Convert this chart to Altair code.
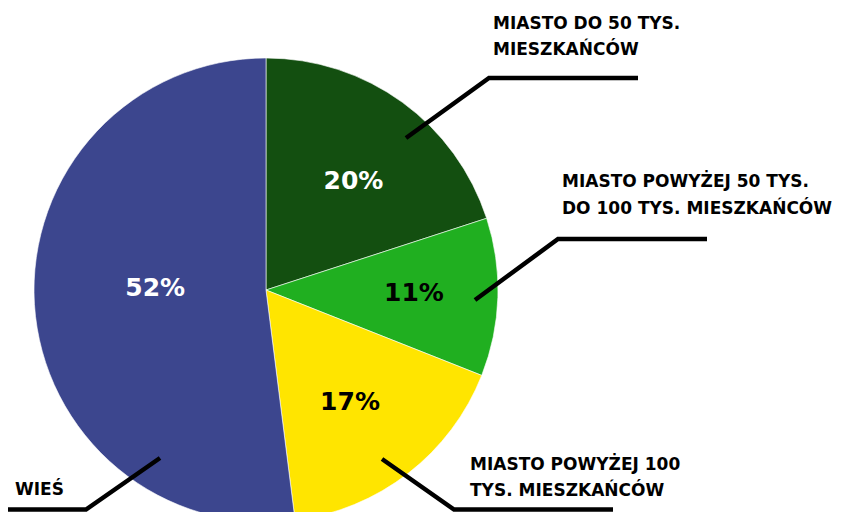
import altair as alt
import pandas as pd

# ---- data ----
categories = [
    "MIASTO DO 50 TYS. MIESZKAŃCÓW",
    "MIASTO POWYŻEJ 50 TYS. DO 100 TYS. MIESZKAŃCÓW",
    "MIASTO POWYŻEJ 100 TYS. MIESZKAŃCÓW",
    "WIEŚ",
]
values = [20, 11, 17, 52]
label_lines = [
    "MIASTO DO 50 TYS.\nMIESZKAŃCÓW",
    "MIASTO POWYŻEJ 50 TYS.\nDO 100 TYS. MIESZKAŃCÓW",
    "MIASTO POWYŻEJ 100\nTYS. MIESZKAŃCÓW",
    "WIEŚ",
]
colors = ["#134f10", "#20af20", "#ffe500", "#3c468e"]
pct_colors = ["#ffffff", "#000000", "#000000", "#ffffff"]

df = pd.DataFrame({
    "cat": categories,
    "value": values,
    "order": list(range(len(values))),
    "pct": [f"{v}%" for v in values],
    "pct_color": pct_colors,
})

# annotation layout (page pixel coordinates)
leader_x = [[406, 489, 638], [475, 558, 707], [382, 454, 613], [160, 86, 0]]
leader_y = [[138, 78, 78], [300, 239, 239], [459, 509.5, 509.5], [458, 509.5, 509.5]]
label_x = [493, 562, 470, 15]
label_y = [28.5, 187, 469.5, 495]

lines_df = pd.DataFrame([
    {"g": i, "k": k, "x": leader_x[i][k], "y": leader_y[i][k]}
    for i in range(4) for k in range(3)
])
labels_df = pd.DataFrame({"x": label_x, "y": label_y, "text": label_lines})

W, H = 827, 504
CX, CY, R = 258, 282, 232
FONT = "DejaVu Sans"

xs = alt.Scale(domain=[8, 8 + W], range=[0, W])
ys = alt.Scale(domain=[8 + H, 8], range=[H, 0])

pie = alt.Chart(df).mark_arc(radius=R, stroke="white", strokeWidth=0.6).encode(
    theta=alt.Theta("value:Q", stack=True),
    color=alt.Color("cat:N", scale=alt.Scale(domain=categories, range=colors), legend=None),
    order=alt.Order("order:Q"),
    x=alt.value(CX),
    y=alt.value(CY),
)

pct_base = alt.Chart(df).transform_window(
    cum="sum(value)", sort=[alt.SortField("order", order="ascending")],
    frame=[None, 0],
).transform_calculate(mid="datum.cum - datum.value / 2")

pct_enc = dict(
    theta=alt.Theta("mid:Q", scale=alt.Scale(domain=[0, 100], range=[0, 6.283185307])),
    text="pct:N",
    color=alt.Color("pct_color:N", scale=None),
    x=alt.value(CX),
    y=alt.value(CY),
)

# per-slice label placement: (radius, dx, dy)
pct_place = [(142, 4, 6), (145, 3, -2), (142, -3, 0), (111, 0, -9)]
pct_layers = []
for i, (rad, ddx, ddy) in enumerate(pct_place):
    pct_layers.append(
        pct_base.transform_filter(f"datum.order == {i}").mark_text(
            radius=rad, dx=ddx, dy=ddy, font=FONT, fontSize=25, fontWeight="bold",
            align="center", baseline="middle"
        ).encode(**pct_enc)
    )

leaders = alt.Chart(lines_df).mark_line(
    color="black", strokeWidth=4.5, strokeCap="butt", strokeJoin="miter", clip=False
).encode(
    x=alt.X("x:Q", scale=xs, axis=None),
    y=alt.Y("y:Q", scale=ys, axis=None),
    detail="g:N",
    order="k:Q",
)

labels = alt.Chart(labels_df).mark_text(
    font=FONT, fontSize=17, fontWeight="bold", align="left", baseline="alphabetic",
    lineBreak="\n", lineHeight=26.5, color="black",
).encode(
    x=alt.X("x:Q", scale=xs, axis=None),
    y=alt.Y("y:Q", scale=ys, axis=None),
    text="text:N",
)

chart = alt.layer(pie, *pct_layers, leaders, labels).resolve_scale(
    theta="independent"
).properties(
    width=W, height=H, autosize=alt.AutoSizeParams(type="none"), padding=0,
    background="white",
).configure_view(stroke=None)

chart.save("out.html", embed_options={"renderer": "svg", "actions": False})
